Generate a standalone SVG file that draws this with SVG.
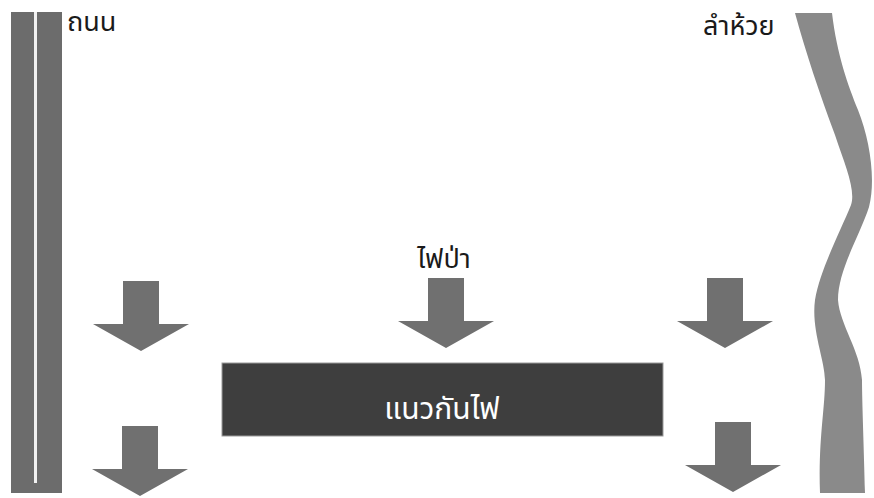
<svg xmlns="http://www.w3.org/2000/svg" width="874" height="498" viewBox="0 0 874 498">
<style>
.lbl{font-family:"Noto Sans Thai","Noto Sans","DejaVu Sans",sans-serif;font-size:27px;fill:#1a1a1a}
.arrow{fill:#707070}
</style>
<defs>
<path id="arr" d="M-18,0 H18 V43 H48 L0,70 L-48,43 H-18 Z"/>
</defs>
<rect width="874" height="498" fill="#ffffff"/>
<g id="road">
<rect x="11" y="12" width="51" height="481" fill="#6c6c6c"/>
<rect x="34" y="12" width="3" height="471" fill="#f2f2f2"/>
<text class="lbl" x="67" y="31">ถนน</text>
</g>
<g id="stream">
<path d="M795,13 C805,50 820,95 835,135 C845,165 856,190 851,205 C840,232 820,270 815,300 C811,330 825,360 825,380 C825,410 818,440 820,493 L865,493 C864,450 862,400 862,380 C860,350 840,325 838,300 C838,270 860,235 869,207 C876,180 870,140 858,110 C848,85 837,55 832,13 Z" fill="#8a8a8a"/>
<text class="lbl" x="703" y="35">ลำห้วย</text>
</g>
<g id="firebreak">
<rect x="222" y="363" width="441" height="73" fill="#3e3e3e" stroke="#9a9a9a" stroke-width="1"/>
<text class="lbl" x="442" y="419" text-anchor="middle" style="fill:#ffffff;font-size:30px">แนวกันไฟ</text>
</g>
<g id="wildfire">
<text class="lbl" x="444" y="268" text-anchor="middle">ไฟป่า</text>
</g>
<g id="connectors" class="arrow">
<use href="#arr" x="141" y="281"/>
<use href="#arr" x="446" y="278"/>
<use href="#arr" x="725" y="278"/>
<use href="#arr" x="140" y="426"/>
<use href="#arr" x="733" y="422"/>
</g>
</svg>
